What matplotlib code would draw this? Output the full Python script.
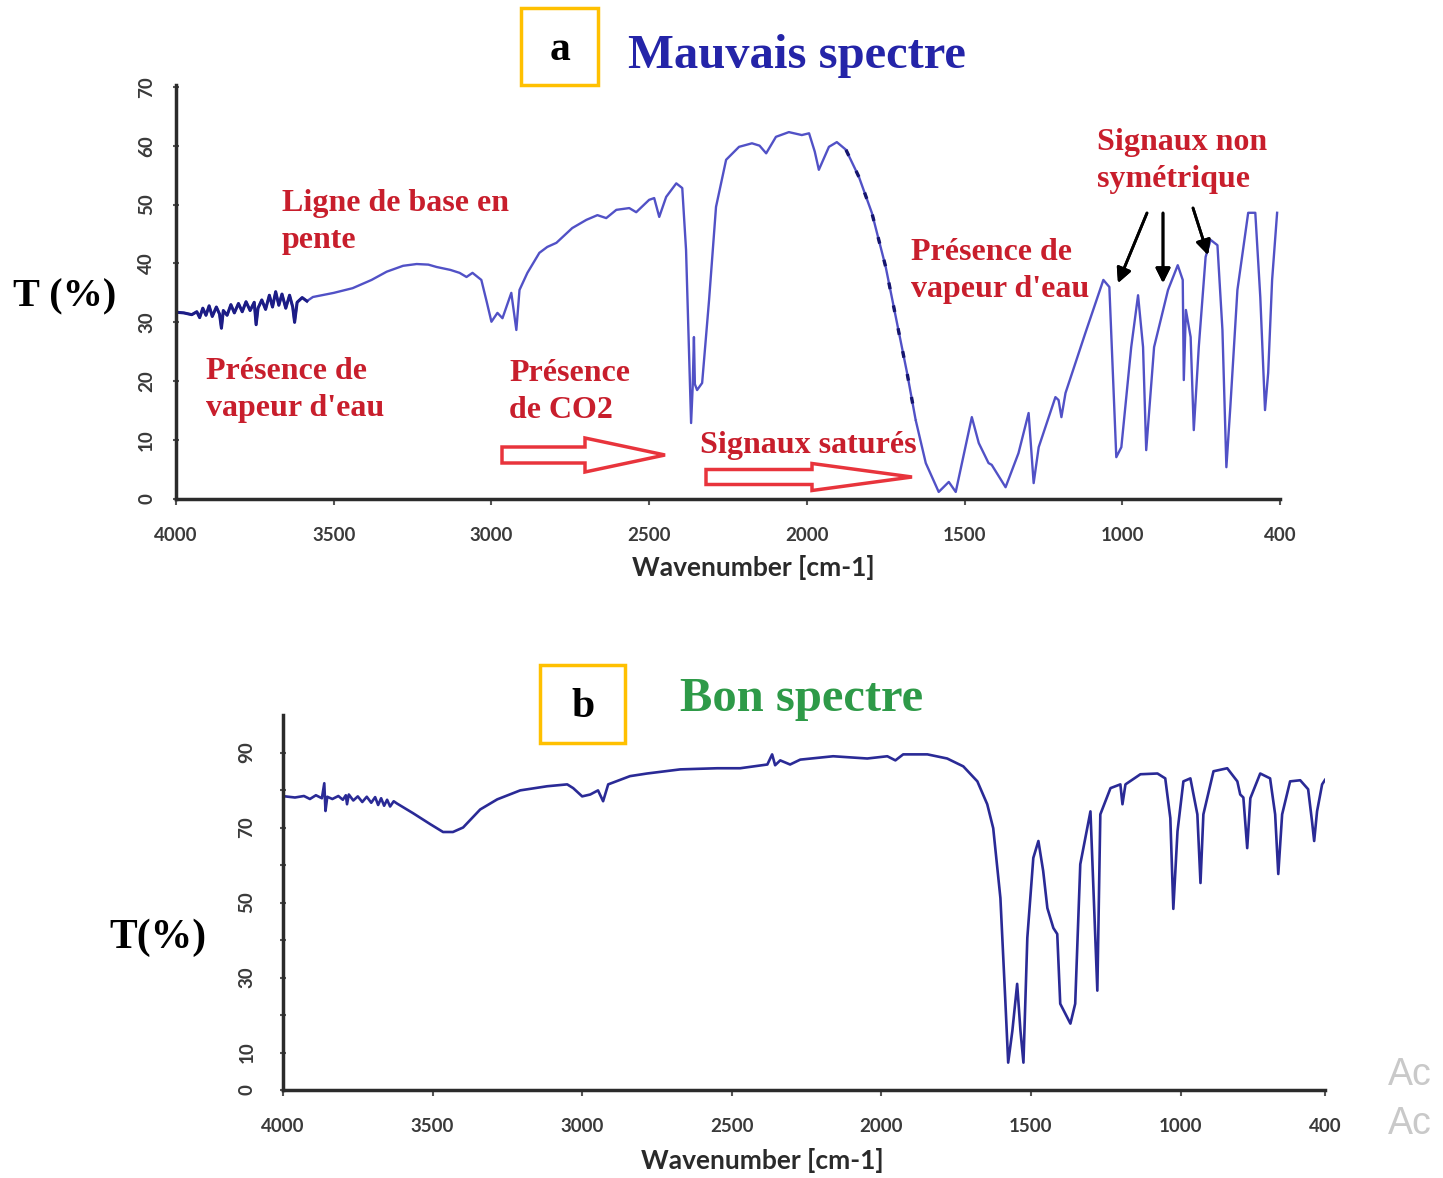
import matplotlib.pyplot as plt
import numpy as np
from matplotlib.patches import Rectangle, FancyArrow

W, H = 1443, 1178

# spectre a (mauvais) : nombre d'onde (cm-1) / transmittance (%)
wn_a = [3997, 3975, 3950, 3934, 3925, 3915, 3905, 3895, 3885, 3872, 3862, 3856,
        3850, 3838, 3826, 3815, 3802, 3790, 3778, 3765, 3752, 3746, 3740, 3728,
        3716, 3704, 3694, 3684, 3674, 3664, 3652, 3640, 3630, 3624, 3616, 3600,
        3585, 3566, 3500, 3440, 3380, 3332, 3280, 3237, 3200, 3174, 3130, 3101,
        3079, 3060, 3032, 3015, 3000, 2981, 2965, 2950, 2937, 2921, 2911, 2886,
        2848, 2823, 2794, 2744, 2699, 2664, 2636, 2604, 2563, 2541, 2500, 2484,
        2468, 2446, 2414, 2395, 2383, 2367, 2362, 2358, 2355, 2348, 2332, 2310,
        2288, 2256, 2215, 2174, 2150, 2129, 2098, 2057, 2016, 1993, 1975, 1962,
        1930, 1905, 1876, 1835, 1794, 1750, 1699, 1683, 1655, 1623, 1582, 1550,
        1528, 1477, 1455, 1424, 1414, 1370, 1329, 1297, 1281, 1265, 1212, 1202,
        1193, 1180, 1117, 1060, 1041, 1019, 1003, 966, 940, 921, 909, 879,
        826, 789, 770, 766, 758, 740, 728, 709, 683, 664, 638, 619,
        604, 589, 562, 521, 494, 475, 457, 445, 430, 411]
t_a = [31.7, 31.6, 31.3, 31.8, 30.8, 32.4, 31.2, 32.8, 31.0, 32.6, 31.4, 29.0,
       32.0, 31.2, 33.0, 31.6, 33.2, 31.8, 33.5, 32.0, 33.4, 29.6, 32.4, 33.8,
       32.2, 34.6, 32.6, 35.2, 32.9, 34.8, 32.4, 34.6, 32.6, 30.0, 33.4, 34.2,
       33.6, 34.3, 35.0, 35.8, 37.2, 38.6, 39.6, 39.9, 39.8, 39.4, 38.9, 38.4,
       37.7, 38.4, 37.2, 33.5, 30.1, 31.6, 30.7, 33.0, 35.0, 28.7, 35.5, 38.4,
       41.8, 42.8, 43.5, 46.0, 47.4, 48.2, 47.7, 49.1, 49.4, 48.7, 50.8, 51.1,
       47.9, 51.3, 53.6, 52.8, 42.3, 12.9, 19.0, 27.5, 19.5, 18.5, 19.7, 33.8,
       49.6, 57.6, 59.8, 60.4, 60.0, 58.7, 61.5, 62.3, 61.8, 62.1, 59.0, 55.9,
       59.8, 60.6, 59.3, 54.7, 48.6, 39.4, 25.8, 21.6, 13.4, 6.1, 1.2, 2.9,
       1.2, 13.9, 9.5, 6.1, 5.8, 2.0, 7.8, 14.6, 2.7, 8.8, 17.3, 16.8,
       13.9, 18.0, 28.2, 37.2, 36.0, 7.1, 8.8, 25.8, 34.6, 25.8, 8.3, 25.8,
       35.5, 39.7, 37.2, 20.2, 32.1, 27.5, 11.7, 25.8, 41.1, 44.0, 43.1, 28.7,
       5.4, 15.6, 35.5, 48.6, 48.6, 34.3, 15.1, 21.4, 37.2, 48.6]

# spectre b (bon)
wn_b = [3993, 3960, 3930, 3910, 3890, 3870, 3862, 3858, 3852, 3835, 3815, 3800,
        3790, 3786, 3780, 3765, 3750, 3735, 3720, 3705, 3692, 3682, 3672, 3662,
        3652, 3642, 3630, 3619, 3565, 3508, 3465, 3432, 3398, 3341, 3284, 3207,
        3117, 3050, 3030, 3000, 2973, 2947, 2930, 2913, 2840, 2783, 2672, 2549,
        2472, 2381, 2365, 2355, 2338, 2305, 2271, 2161, 2047, 1980, 1953, 1927,
        1846, 1780, 1726, 1679, 1646, 1626, 1602, 1586, 1576, 1562, 1546, 1535,
        1525, 1512, 1492, 1475, 1459, 1445, 1425, 1412, 1402, 1368, 1352, 1335,
        1301, 1278, 1268, 1234, 1201, 1194, 1184, 1134, 1077, 1051, 1034, 1024,
        1010, 988, 959, 930, 917, 905, 863, 806, 764, 752, 739, 723,
        710, 669, 628, 607, 594, 578, 545, 503, 470, 454, 445, 433,
        412, 400]
t_b = [78.3, 78.0, 78.4, 77.6, 78.6, 77.8, 81.8, 74.4, 78.2, 77.6, 78.4, 77.4,
       78.6, 76.2, 78.8, 77.2, 78.3, 76.8, 78.2, 76.6, 78.1, 76.0, 77.8, 75.8,
       77.4, 75.6, 77.0, 76.4, 73.8, 70.9, 68.8, 68.8, 70.0, 74.8, 77.5, 79.9,
       81.0, 81.5, 80.5, 78.3, 78.8, 79.9, 77.0, 81.5, 83.7, 84.4, 85.5, 85.8,
       85.8, 86.8, 89.5, 86.6, 87.9, 86.8, 88.1, 89.0, 88.4, 89.0, 87.9, 89.5,
       89.5, 88.4, 86.3, 82.3, 76.2, 69.8, 51.2, 24.6, 7.3, 15.8, 28.3, 15.8,
       7.3, 40.6, 61.9, 66.4, 58.4, 48.5, 43.2, 41.6, 23.0, 17.7, 23.0, 60.2,
       74.3, 26.5, 73.5, 80.5, 81.5, 76.2, 81.5, 84.2, 84.4, 83.1, 72.5, 48.3,
       69.0, 82.3, 83.1, 73.5, 55.2, 73.5, 85.0, 85.8, 82.3, 78.8, 78.0, 64.5,
       77.8, 84.4, 83.1, 73.5, 57.6, 73.5, 82.3, 82.6, 80.2, 71.7, 66.4, 74.3,
       81.5, 82.7]

x_ticks = [4000, 3500, 3000, 2500, 2000, 1500, 1000, 400]
y_ticks_a = [0, 10, 20, 30, 40, 50, 60, 70]
y_ticks_b = [0, 10, 20, 30, 40, 50, 60, 70, 80, 90]
y_labels_b = ['0', '10', '', '30', '', '50', '', '70', '', '90']

red = '#c81e2c'
serif = 'Liberation Serif'
sans = 'Lato'

fig = plt.figure(figsize=(W / 100, H / 100), dpi=100)


def pos(x, y):
    # pixel position -> figure fraction
    return x / W, 1 - y / H


def axes_px(left, top, right, bottom):
    return fig.add_axes([left / W, 1 - bottom / H, (right - left) / W, (bottom - top) / H])


def setup(ax, low_end, ylim, yticks, ylabels, ypad):
    # the 1000-400 cm-1 region is drawn compressed, as on the instrument
    wn_pts = [400, 1000, 4000]
    pos_pts = [low_end, 1000, 4000]
    ax.set_xscale('function', functions=(lambda w: np.interp(w, wn_pts, pos_pts),
                                         lambda p: np.interp(p, pos_pts, wn_pts)))
    ax.set_xlim(4000, 400)
    ax.set_ylim(*ylim)
    ax.set_xticks(x_ticks)
    ax.set_xticklabels([str(v) for v in x_ticks])
    ax.set_yticks(yticks)
    ax.set_yticklabels(ylabels, rotation=90, va='center')
    ax.minorticks_off()
    for s in ['top', 'right']:
        ax.spines[s].set_visible(False)
    for s in ['left', 'bottom']:
        ax.spines[s].set_color('#2b2b2b')
        ax.spines[s].set_linewidth(2.5)
    ax.tick_params(axis='x', length=4, width=1.5, pad=16, color='#555555')
    ax.tick_params(axis='y', length=4, width=1.5, pad=ypad, color='#555555', direction='inout')
    for lab in ax.get_xticklabels():
        lab.set_fontfamily(sans)
        lab.set_fontweight('bold')
        lab.set_fontsize(13.5)
        lab.set_color('#3a3a3a')
    for lab in ax.get_yticklabels():
        lab.set_fontfamily(sans)
        lab.set_fontweight('bold')
        lab.set_fontsize(13.5)
        lab.set_color('#3a3a3a')
    ax.patch.set_alpha(0)


# ---------- (a) mauvais spectre ----------
ax1 = axes_px(176, 85, 1280, 499)
setup(ax1, 500, (0, 70.3), y_ticks_a, [str(v) for v in y_ticks_a], 13)
wa = np.array(wn_a)
ta = np.array(t_a)
ax1.plot(wa, ta, color='#5151c6', lw=1.7)
noisy = wa >= 3585
ax1.plot(wa[noisy], ta[noisy], color='#1c1c86', lw=2.2)
fall = (wa <= 1900) & (wa >= 1640)
ax1.plot(wa[fall], ta[fall], color='#15156e', lw=2.4, ls=(0, (2, 5)))
ax1.set_xlabel('Wavenumber [cm-1]', fontfamily=sans, fontweight='bold',
               fontsize=19, color='#2a2a2a')
ax1.xaxis.set_label_coords(0.523, -0.135)

fig.text(*pos(65, 297), 'T (%)', ha='center', va='center', fontsize=29,
         fontweight='bold', family=serif)

fig.add_artist(Rectangle(pos(521, 85), 77 / W, 77 / H, transform=fig.transFigure,
                         fill=False, ec='#ffc000', lw=2.5))
fig.text(*pos(560, 50), 'a', ha='center', va='center', fontsize=30,
         fontweight='bold', family=serif)
fig.text(*pos(628, 56), 'Mauvais spectre', ha='left', va='center', fontsize=35,
         fontweight='bold', family=serif, color='#2424a8')

notes_a = [
    (282, 222, 'Ligne de base en\npente'),
    (206, 390, "Présence de\nvapeur d'eau"),
    (509, 392, 'Présence\nde CO2'),
    (700, 445, 'Signaux saturés'),
    (911, 271, "Présence de\nvapeur d'eau"),
    (1097, 161, 'Signaux non\nsymétrique'),
]
for x, y, txt in notes_a:
    fig.text(*pos(x, y), txt, ha='left', va='center', fontsize=23,
             fontweight='bold', family=serif, color=red, linespacing=1.34)

# hollow arrows under the CO2 / saturation labels
for x0, x1, yc, shaft, head, head_len in [(502, 665, 455, 16, 34, 80),
                                           (706, 912, 477, 15, 27, 100)]:
    (fx0, fy), (fx1, _) = pos(x0, yc), pos(x1, yc)
    fig.add_artist(FancyArrow(fx0, fy, fx1 - fx0, 0, width=shaft / H,
                              head_width=head / H, head_length=head_len / W,
                              length_includes_head=True, transform=fig.transFigure,
                              fc='white', ec='#e8343c', lw=2.5))

for (xt, yt), (xh, yh) in [((1147, 213), (1118, 283)),
                           ((1163, 213), (1163, 283)),
                           ((1193, 208), (1208, 255))]:
    fig.add_artist(plt.annotate('', xy=pos(xh, yh), xytext=pos(xt, yt),
                                xycoords='figure fraction', textcoords='figure fraction',
                                arrowprops=dict(arrowstyle='-|>', color='black', lw=2,
                                                mutation_scale=22, shrinkA=0, shrinkB=0)))

# ---------- (b) bon spectre ----------
ax2 = axes_px(283, 715, 1325, 1090)
setup(ax2, 517, (0, 100), y_ticks_b, y_labels_b, 18)
ax2.plot(wn_b, t_b, color='#2a2a96', lw=1.9)
ax2.set_xlabel('Wavenumber [cm-1]', fontfamily=sans, fontweight='bold',
               fontsize=19, color='#2a2a2a')
ax2.xaxis.set_label_coords(0.46, -0.155)

fig.text(*pos(158, 938), 'T(%)', ha='center', va='center', fontsize=30,
         fontweight='bold', family=serif)

fig.add_artist(Rectangle(pos(540, 743), 85 / W, 78 / H, transform=fig.transFigure,
                         fill=False, ec='#ffc000', lw=2.5))
fig.text(*pos(583, 707), 'b', ha='center', va='center', fontsize=30,
         fontweight='bold', family=serif)
fig.text(*pos(680, 699), 'Bon spectre', ha='left', va='center', fontsize=35,
         fontweight='bold', family=serif, color='#2e9a48')

for y in [1075, 1124]:
    fig.text(*pos(1388, y), 'Ac', ha='left', va='center', fontsize=27,
             family='Liberation Sans', color='#c9c9c9')

fig.savefig('out.png', dpi=100, facecolor='white')
